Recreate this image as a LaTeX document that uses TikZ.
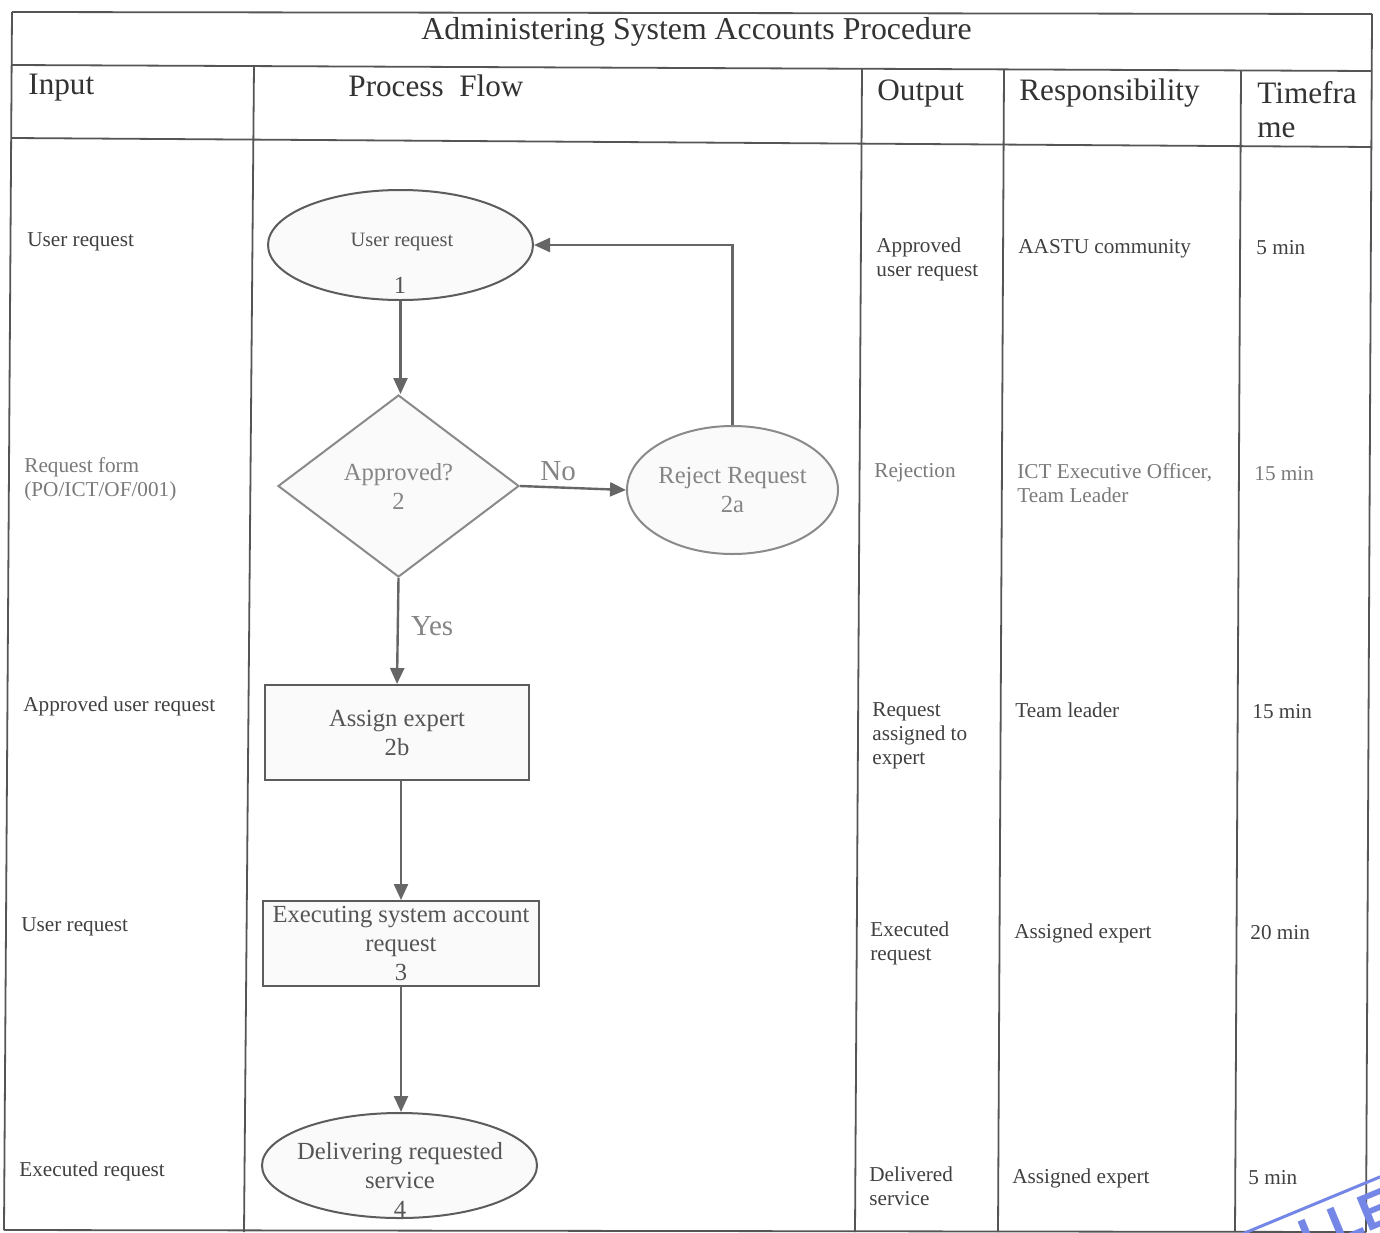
\documentclass[tikz,border=0pt]{standalone}
\usepackage{fontspec}
\setmainfont{Liberation Serif}
\newfontfamily\stampfont{Liberation Sans}
\usetikzlibrary{shapes.geometric,arrows.meta,calc}
\definecolor{tabline}{HTML}{555555}
\definecolor{headtxt}{HTML}{333333}
\definecolor{bodytxt}{HTML}{404040}
\definecolor{lighttxt}{HTML}{7A7A7A}
\definecolor{flowtxt}{HTML}{555555}
\definecolor{flowlight}{HTML}{858585}
\definecolor{flowline}{HTML}{5C5C5C}
\definecolor{flowlinelight}{HTML}{8A8A8A}
\definecolor{arrowclr}{HTML}{666666}
\definecolor{stampblue}{HTML}{7486E6}
\begin{document}
\begin{tikzpicture}[x=0.5pt,y=-0.5pt,
  tline/.style={draw=tabline, line width=0.9pt},
  headtext/.style={anchor=base west, inner sep=0pt, align=left, font=\fontsize{15.6}{18.5}\selectfont, text=headtxt},
  bodytext/.style={anchor=base west, inner sep=0pt, align=left, font=\fontsize{10.6}{12}\selectfont, text=bodytxt},
  lightbody/.style={bodytext, text=lighttxt},
  flowbox/.style={draw=flowline, line width=1pt, inner sep=0pt, align=center, fill=black!2,
     font=\fontsize{12.3}{14.5}\selectfont, text=flowtxt},
  flowlab/.style={inner sep=0pt, align=center, font=\fontsize{12.3}{14.5}\selectfont, text=flowtxt},
  branch/.style={inner sep=0pt, font=\fontsize{14.5}{16}\selectfont, text=flowlight},
  conn/.style={draw=arrowclr, line width=1.2pt, -{Triangle[length=8pt,width=7pt]}}]

\fill[white] (0,0) rectangle (1380,1232);
\useasboundingbox (0,0) rectangle (1380,1232);

% ---------- table ----------
\draw[tline] (12,12) -- (1372,14);
\draw[tline] (12,65) -- (1372,71);
\draw[tline] (12,138) -- (1372,147);
\draw[tline] (4,1230) -- (1366,1232);
\draw[tline] (12,12) -- (4,1230);
\draw[tline] (1372,14) -- (1366,1232);
\draw[tline] (254,65) -- (244,1232);
\draw[tline] (862,69) -- (855,1232);
\draw[tline] (1004,70) -- (998,1232);
\draw[tline] (1241,71) -- (1235,1232);

\node[headtext, font=\fontsize{15.9}{19}\selectfont] (title) at (421,39) {Administering System Accounts Procedure};
\node[headtext] (hin) at (28,94) {Input};
\node[headtext] (hpf) at (348,96) {Process\ \ Flow};
\node[headtext] (hout) at (877,100) {Output};
\node[headtext] (hresp) at (1019,100) {Responsibility};
\node[headtext, font=\fontsize{15.6}{17}\selectfont] (htime) at (1257,137) {Timefra\\me};

% input column
\node[bodytext] (in1) at (27,246) {User request};
\node[lightbody] (in2) at (24,496) {Request form\\(PO/ICT/OF/001)};
\node[bodytext] (in3) at (23,711) {Approved user request};
\node[bodytext] (in4) at (21,931) {User request};
\node[bodytext] (in5) at (19,1176) {Executed request};

% output column
\node[bodytext] (out1) at (876,276) {Approved\\user request};
\node[lightbody] (out2) at (874,477) {Rejection};
\node[bodytext] (out3) at (872,764) {Request\\assigned to\\expert};
\node[bodytext] (out4) at (870,960) {Executed\\request};
\node[bodytext] (out5) at (869,1205) {Delivered\\service};

% responsibility column
\node[bodytext] (r1) at (1018,253) {AASTU community};
\node[lightbody] (r2) at (1017,502) {ICT Executive Officer,\\Team Leader};
\node[bodytext] (r3) at (1015,717) {Team leader};
\node[bodytext] (r4) at (1014,938) {Assigned expert};
\node[bodytext] (r5) at (1012,1183) {Assigned expert};

% timeframe column
\node[bodytext] (t1) at (1256,254) {5 min};
\node[lightbody] (t2) at (1254,480) {15 min};
\node[bodytext] (t3) at (1252,718) {15 min};
\node[bodytext] (t4) at (1250,939) {20 min};
\node[bodytext] (t5) at (1248,1184) {5 min};

% ---------- flow chart ----------
\node[flowbox, ellipse, minimum width=132.5pt, minimum height=55pt] (n1) at (400.5,245) {};
\node[flowlab, font=\fontsize{10.2}{12}\selectfont] (n1a) at (402,242) {User request};
\node[flowlab] (n1b) at (400,285) {1};

\node[flowbox, diamond, draw=flowlinelight, text=flowlight, aspect=1.32,
      minimum width=120.5pt, minimum height=91pt] (n2) at (398.5,486) {Approved?\\2};

\node[flowbox, ellipse, draw=flowlinelight, text=flowlight,
      minimum width=105.5pt, minimum height=64pt] (n2a) at (732.5,490) {Reject Request\\2a};

\node[flowbox, rectangle, minimum width=132pt, minimum height=47.5pt] (n2b) at (397,732.5) {Assign expert\\2b};

\node[flowbox, rectangle, minimum width=138pt, minimum height=42.5pt] (n3) at (401,943.5) {Executing system account\\request\\3};

\node[flowbox, ellipse, minimum width=137.5pt, minimum height=52.5pt] (n4) at (399.5,1165.5) {};
\node[flowlab] (n4a) at (400,1180) {Delivering requested\\service\\4};

\draw[conn] (n1.south) -- (n1.south |- n2.north);
\draw[conn] (n2.east) -- node[branch, pos=0.36, above=2.5pt] (lno) {No} (n2a.west);
\draw[conn] (n2a.north) |- (n1.east);
\draw[conn] (n2.south) -- node[branch, pos=0.45, right=6pt] (lyes) {Yes} (n2b.north);
\draw[conn] (n2b.south -| n3.north) -- (n3.north);
\draw[conn] (n3.south) -- (n3.south |- n4.north);

% ---------- stamp fragment ----------
\begin{scope}
\clip (0,0) rectangle (1380,1232);
\begin{scope}[shift={(1247,1232)}, rotate=22.5]
\coordinate (stampA) at (-60,0);
\coordinate (stampB) at (260,0);
\draw[stampblue, line width=1.5pt] (stampA) -- (stampB);
\node[text=stampblue, font=\stampfont\bfseries\fontsize{26}{26}\selectfont, anchor=base west,
      inner sep=0pt, rotate=22.5] (stamp) at (47,46) {LLED};
\end{scope}
\end{scope}
\end{tikzpicture}
\end{document}
